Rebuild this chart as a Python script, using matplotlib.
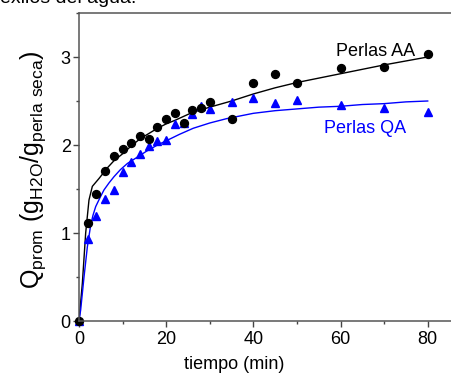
import numpy as np
import matplotlib
matplotlib.use('Agg')
import matplotlib.pyplot as plt
from matplotlib.ticker import MultipleLocator

plt.rcParams['font.family'] = ['Liberation Sans', 'DejaVu Sans']
plt.rcParams['mathtext.default'] = 'regular'

# datos experimentales (tiempo en min, Q promedio)
t_aa = [0, 2, 4, 6, 8, 10, 12, 14, 16, 18, 20, 22, 24, 26, 28, 30, 35, 40, 45, 50, 60, 70, 80]
q_aa = [0, 1.11, 1.44, 1.71, 1.87, 1.95, 2.02, 2.10, 2.07, 2.21, 2.30, 2.36, 2.25, 2.40, 2.42,
        2.49, 2.30, 2.70, 2.81, 2.71, 2.88, 2.89, 3.03]
t_qa = [0, 2, 4, 6, 8, 10, 12, 14, 16, 18, 20, 22, 24, 26, 28, 30, 35, 40, 45, 50, 60, 70, 80]
q_qa = [0, 0.93, 1.19, 1.39, 1.49, 1.69, 1.81, 1.90, 1.99, 2.04, 2.06, 2.24, 2.25, 2.35, 2.44,
        2.41, 2.49, 2.53, 2.48, 2.51, 2.45, 2.42, 2.38]

# curvas de ajuste
fit_t_aa = [0, 0.77, 1.53, 2.29, 3.06, 4.6, 6.5, 8, 10, 12, 14, 16, 18, 20, 22, 26, 30, 35, 40,
            45, 50, 55, 60, 65, 70, 75, 80]
fit_q_aa = [0, 0.43, 1.00, 1.375, 1.53, 1.62, 1.74, 1.82, 1.90, 1.99, 2.07, 2.13, 2.19, 2.24,
            2.28, 2.37, 2.43, 2.50, 2.58, 2.65, 2.71, 2.76, 2.81, 2.86, 2.91, 2.955, 3.00]
fit_t_qa = [0, 0.38, 1.15, 1.91, 2.68, 3.2, 3.83, 4.8, 5.74, 6.9, 8.03, 9.5, 11.1, 13, 15.5, 18,
            20.1, 23, 26.2, 30, 33.9, 40, 45, 50, 55, 60, 65, 70, 75, 80]
fit_q_qa = [0, 0.125, 0.50, 0.84, 1.09, 1.20, 1.30, 1.40, 1.49, 1.57, 1.64, 1.72, 1.79, 1.85,
            1.93, 2.00, 2.05, 2.12, 2.19, 2.25, 2.30, 2.36, 2.39, 2.41, 2.43, 2.44, 2.46, 2.47,
            2.49, 2.50]

fig = plt.figure(figsize=(4.51, 3.76), dpi=100)
ax = fig.add_axes([79 / 451, 55 / 376, 88 * 4.359 / 451, 308 / 376])

ax.plot(fit_t_aa, fit_q_aa, color='black', lw=1.0)
ax.plot(fit_t_qa, fit_q_qa, color='blue', lw=1.0)
ax.plot(t_qa, q_qa, '^', color='blue', ms=6, clip_on=False)
ax.plot(t_aa, q_aa, 'o', color='black', ms=5.7, clip_on=False)

ax.set_xlim(0, 88)
ax.set_ylim(0, 3.5)
ax.xaxis.set_major_locator(MultipleLocator(20))
ax.xaxis.set_minor_locator(MultipleLocator(10))
ax.yaxis.set_major_locator(MultipleLocator(1))
ax.yaxis.set_minor_locator(MultipleLocator(0.5))
ax.tick_params(which='both', direction='out', color='#444444', labelsize=13)
ax.tick_params(axis='x', pad=3)
ax.tick_params(axis='y', pad=2)
ax.tick_params(which='major', length=4, width=1)
ax.tick_params(which='minor', length=2.5, width=1)
for s in ax.spines.values():
    s.set_color('#555555')
    s.set_linewidth(1.1)

ax.set_xlabel('tiempo (min)', fontsize=13)
ax.xaxis.set_label_coords(0.405, -0.115)
ax.set_ylabel(r'Q$_{prom}$ (g$_{H2O}$/g$_{perla\ seca}$)', fontsize=18)
ax.yaxis.set_label_coords(-0.08, 0.49)

ax.text(68, 3.06, 'Perlas AA', color='black', fontsize=13, ha='center', va='center')
ax.text(65.6, 2.19, 'Perlas QA', color='blue', fontsize=13, ha='center', va='center')

fig.text(0, 1 - 3 / 376, 'exlios del agua.', fontsize=14, ha='left', va='baseline')

fig.savefig('out.png', dpi=100)
